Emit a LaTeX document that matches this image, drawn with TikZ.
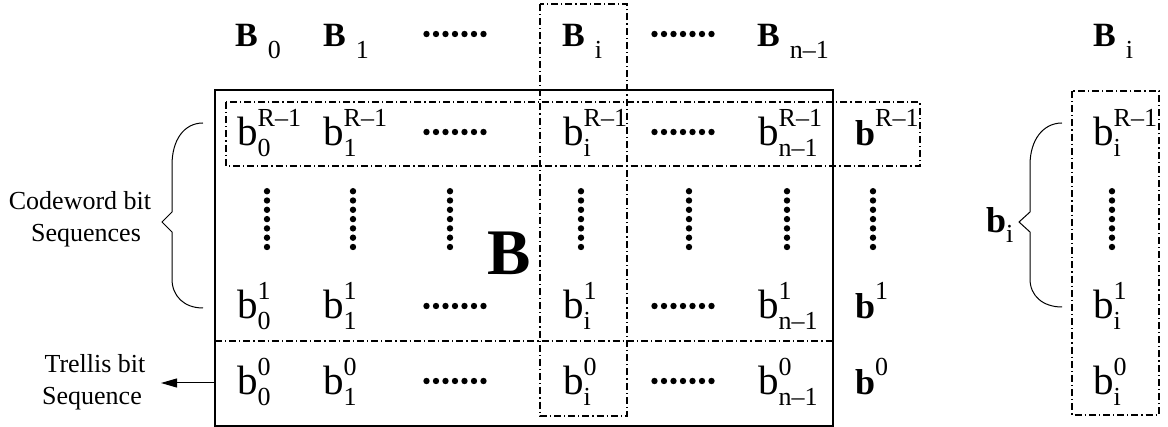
\documentclass[tikz,border=0pt]{standalone}
\usepackage{fontspec}
\setmainfont{Liberation Serif}
\usetikzlibrary{arrows.meta}
\newcommand\bsym[2]{{\fontsize{41}{41}\selectfont b}\rlap{\raisebox{19pt}{\fontsize{26}{26}\selectfont #1}}\raisebox{-11pt}{\fontsize{26}{26}\selectfont #2}}
\newcommand\bvec[1]{{\fontsize{36}{36}\selectfont\bfseries b}\raisebox{19pt}{\fontsize{26}{26}\selectfont #1}}
\newcommand\Bhead[1]{{\fontsize{34}{34}\selectfont\bfseries B}\hspace{10pt}\raisebox{-12pt}{\fontsize{26}{26}\selectfont #1}}
\newcommand\hdotrow[2]{\foreach \k in {0,...,6} {\fill ({#1-28.5+\k*9.5},#2) circle (3.2);}}
\newcommand\vdotcol[2]{\foreach \k in {0,...,6} {\fill (#1,{#2+3.2+\k*9.3}) circle (3.2);}}
\tikzset{
  lbl/.style={inner sep=0pt, anchor=base west},
  txt/.style={inner sep=0pt, anchor=base, font=\fontsize{26}{26}\selectfont},
  dashdot/.style={line width=1.1pt, dash pattern=on 7pt off 3pt on 1.2pt off 3pt},
  frame/.style={line width=1.2pt},
  brace/.style={line width=1pt},
}
\begin{document}
\begin{tikzpicture}[x=1pt,y=-1pt]
\useasboundingbox (0,0) rectangle (1168,427);
% frames
\draw[frame] (215,90) rectangle (833,426);
\draw[dashdot] (226,102) rectangle (920,166);
\draw[dashdot] (540,4) rectangle (627,416);
\draw[dashdot] (215,341) -- (833,341);
\draw[dashdot] (1072,91) rectangle (1159,415);
% header
\node[lbl] (H0) at (235,47) {\Bhead{0}};
\node[lbl] (H1) at (323,47) {\Bhead{1}};
\node[lbl] (Hi) at (562,47) {\Bhead{i}};
\node[lbl] (Hn) at (757,47) {\Bhead{n–1}};
\node[lbl] (HR) at (1093,47) {\Bhead{i}};
\hdotrow{455}{34}
\hdotrow{683}{34}
% row R-1
\node[lbl] (r0) at (237,146) {\bsym{R–1}{0}};
\node[lbl] (r1) at (323,146) {\bsym{R–1}{1}};
\node[lbl] (ri) at (563,146) {\bsym{R–1}{i}};
\node[lbl] (rn) at (758,146) {\bsym{R–1}{n–1}};
\node[lbl] (rb) at (855,146) {\bvec{R–1}};
\node[lbl] (rR) at (1093,146) {\bsym{R–1}{i}};
\hdotrow{455}{132}
\hdotrow{683}{132}
% vertical dots
\foreach \x in {267,353,450,581,689,787,873,1112} {\vdotcol{\x}{188}}
% row 1
\node[lbl] (a0) at (237,319) {\bsym{1}{0}};
\node[lbl] (a1) at (323,319) {\bsym{1}{1}};
\node[lbl] (ai) at (563,319) {\bsym{1}{i}};
\node[lbl] (an) at (758,319) {\bsym{1}{n–1}};
\node[lbl] (ab) at (855,319) {\bvec{1}};
\node[lbl] (aR) at (1093,319) {\bsym{1}{i}};
\hdotrow{455}{306}
\hdotrow{683}{306}
% row 0
\node[lbl] (z0) at (237,395) {\bsym{0}{0}};
\node[lbl] (z1) at (323,395) {\bsym{0}{1}};
\node[lbl] (zi) at (563,395) {\bsym{0}{i}};
\node[lbl] (zn) at (758,395) {\bsym{0}{n–1}};
\node[lbl] (zb) at (855,395) {\bvec{0}};
\node[lbl] (zR) at (1093,395) {\bsym{0}{i}};
\hdotrow{455}{381}
\hdotrow{683}{381}
% big B
\node[lbl] (Bbig) at (487,275) {\fontsize{65}{65}\selectfont\bfseries B};
% b_i label
\node[lbl] (bi) at (986,233) {{\fontsize{36}{36}\selectfont\bfseries b}\raisebox{-10pt}{\fontsize{26}{26}\selectfont i}};
% left labels
\node[txt] (cw1) at (80,210) {Codeword bit};
\node[txt] (cw2) at (86,242) {Sequences};
\node[txt] (tr1) at (95,373) {Trellis bit};
\node[txt] (tr2) at (92,405) {Sequence};
% braces
\draw[brace] (203,123) .. controls (184,123) and (172,140) .. (172,165) -- (172,212) -- (162,222) -- (172,232) -- (172,279) .. controls (172,296) and (184,308) .. (203,308);
\draw[brace] (1062,123) .. controls (1043,123) and (1030,140) .. (1030,165) -- (1030,212) -- (1019,222) -- (1030,232) -- (1030,279) .. controls (1030,296) and (1043,307) .. (1062,307);
% arrow
\coordinate (tA) at (215,383);
\coordinate (tB) at (161,383);
\draw[line width=1pt, -{Triangle[length=16pt,width=9pt]}] (tA) -- (tB);
\end{tikzpicture}
\end{document}
